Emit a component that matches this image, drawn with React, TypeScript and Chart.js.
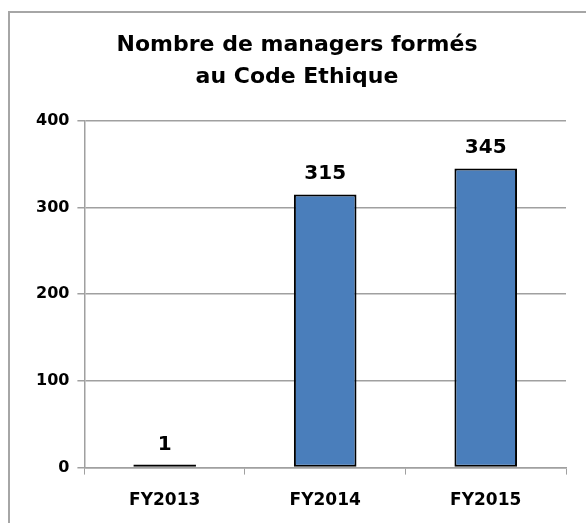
import React, { useEffect, useRef } from "react";
import { Chart, registerables } from "chart.js";

Chart.register(...registerables);

const categories = ["FY2013", "FY2014", "FY2015"];
const values = [1, 315, 345];
const yTicks = [0, 100, 200, 300, 400];
const titleLines = ["Nombre de managers formés", "au Code Ethique"];

const FONT = "Tahoma, 'DejaVu Sans', Verdana, sans-serif";

export default function App() {
  const ref = useRef<HTMLCanvasElement | null>(null);
  useEffect(() => {
    if (!ref.current) return;
    const framePlugin = {
      id: "frame",
      beforeDraw(chart: any) {
        const ctx = chart.ctx;
        ctx.save();
        ctx.fillStyle = "#ffffff";
        ctx.fillRect(0, 0, chart.width, chart.height);
        ctx.strokeStyle = "#a6a6a6";
        ctx.lineWidth = 2;
        ctx.beginPath();
        ctx.moveTo(9, chart.height);
        ctx.lineTo(9, 12);
        ctx.lineTo(chart.width, 12);
        ctx.stroke();
        ctx.restore();
      },
    };
    const labelPlugin = {
      id: "vlabels",
      afterDatasetsDraw(chart: any) {
        const ctx = chart.ctx;
        const meta = chart.getDatasetMeta(0);
        ctx.save();
        ctx.font = `bold 20px ${FONT}`;
        ctx.fillStyle = "#000";
        ctx.textAlign = "center";
        ctx.textBaseline = "alphabetic";
        meta.data.forEach((bar: any, i: number) => {
          ctx.fillText(String(values[i]), bar.x, bar.y - 15);
        });
        ctx.restore();
      },
    };
    const chart = new Chart(ref.current, {
      type: "bar",
      data: {
        labels: categories,
        datasets: [
          {
            data: values,
            backgroundColor: "#4a7ebb",
            borderColor: "#000000",
            borderWidth: 2,
            borderSkipped: false,
            minBarLength: 3,
            categoryPercentage: 1,
            barPercentage: 0.39,
          },
        ],
      },
      options: {
        responsive: false,
        animation: false,
        layout: { padding: { left: 28, right: 20, top: 0, bottom: 0 } },
        plugins: {
          legend: { display: false },
          tooltip: { enabled: false },
          title: {
            display: true,
            text: titleLines,
            color: "#000",
            font: { family: FONT, size: 22, weight: "bold", lineHeight: 1.45 },
            padding: { top: 29, bottom: 28 },
          },
        },
        scales: {
          x: {
            offset: true,
            grid: {
              offset: true,
              drawOnChartArea: false,
              drawTicks: true,
              tickLength: 7,
              color: "#a0a0a0",
            },
            border: { color: "#a0a0a0", width: 1.5 },
            ticks: {
              color: "#000",
              font: { family: FONT, size: 17, weight: "bold" },
              padding: 16,
            },
          },
          y: {
            min: 0,
            max: 400,
            afterBuildTicks(axis: any) {
              axis.ticks = yTicks.map((v) => ({ value: v }));
            },
            grid: { color: "#a0a0a0", lineWidth: 1.5, tickLength: 7 },
            border: { color: "#a0a0a0", width: 1.5 },
            ticks: {
              color: "#000",
              font: { family: FONT, size: 16, weight: "bold" },
              padding: 8,
            },
          },
        },
      },
      plugins: [framePlugin, labelPlugin],
    });
    return () => chart.destroy();
  }, []);
  return (
    <div style={{ position: "absolute", left: 0, top: 0, width: 586, height: 523, overflow: "hidden" }}>
      <canvas ref={ref} width={586} height={527} style={{ display: "block" }} />
    </div>
  );
}
